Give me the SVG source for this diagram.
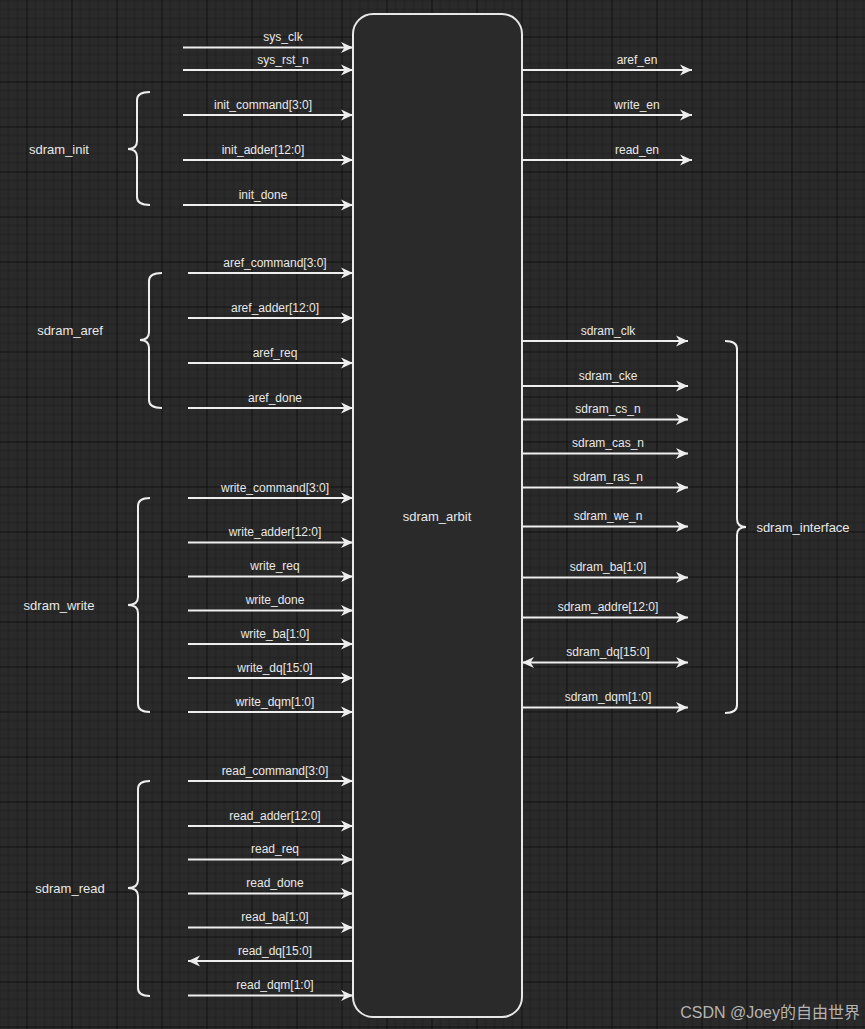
<svg xmlns="http://www.w3.org/2000/svg" width="865" height="1029" viewBox="0 0 865 1029">
<defs>
<pattern id="grid" patternUnits="userSpaceOnUse" x="26.5" y="36.5" width="45" height="45">
<rect width="45" height="45" fill="#2a2a2a"/>
<path d="M9,0V45M18,0V45M27,0V45M36,0V45M0,9H45M0,18H45M0,27H45M0,36H45" stroke="#222" stroke-width="1"/>
<path d="M0,0V45M0,0H45" stroke="#111" stroke-width="2"/>
</pattern>
<marker id="arr" markerUnits="userSpaceOnUse" markerWidth="13" markerHeight="12" refX="12" refY="6" orient="auto-start-reverse" viewBox="0 0 13 12">
<path d="M0,0.5L12,6L0,11.5L3.5,6Z" fill="#eeeeee"/>
</marker>
<style>
.w{stroke:#eeeeee;stroke-width:2;fill:none}
.a{stroke:#eeeeee;stroke-width:2;fill:none;marker-end:url(#arr)}
.b{stroke:#eeeeee;stroke-width:2;fill:none;marker-start:url(#arr);marker-end:url(#arr)}
.t{font-family:"Liberation Sans",Arial,sans-serif;font-size:12px;fill:#e8e8e8;text-anchor:middle}
.g{font-family:"Liberation Sans",Arial,sans-serif;font-size:13px;fill:#e8e8e8;text-anchor:middle;dominant-baseline:central}
</style>
</defs>
<rect width="865" height="1029" fill="url(#grid)"/>

<g id="sdram_arbit">
<rect x="353" y="14" width="169" height="1003" rx="20" ry="20" fill="#2a2a2a" stroke="#e8e8e8" stroke-width="2"/>
<text class="g" x="437" y="516">sdram_arbit</text>
</g>

<g id="group-labels">
<g id="sdram_init"><path class="w" d="M150,92Q137,92 137,100V141Q137,149 128,149Q137,149 137,157V197Q137,205 150,205"/><text class="g" x="59" y="149">sdram_init</text></g>
<g id="sdram_aref"><path class="w" d="M162,273Q149,273 149,281V332Q149,340 140,340Q149,340 149,348V400Q149,408 162,408"/><text class="g" x="70" y="330">sdram_aref</text></g>
<g id="sdram_write"><path class="w" d="M150,498Q138,498 138,506V597Q138,605 128,605Q138,605 138,613V704Q138,712 150,712"/><text class="g" x="59" y="605">sdram_write</text></g>
<g id="sdram_read"><path class="w" d="M150,781Q138,781 138,789V880Q138,888 128,888Q138,888 138,896V988Q138,996 150,996"/><text class="g" x="70" y="888">sdram_read</text></g>
<g id="sdram_interface"><path class="w" d="M725,341Q737,341 737,349V519Q737,527 746,527Q737,527 737,535V705Q737,713 725,713"/><text class="g" x="803" y="527">sdram_interface</text></g>
</g>

<g id="connectors">
<path class="a" d="M183,47.5H353"/><text class="t" x="283" y="41">sys_clk</text>
<path class="a" d="M183,70H353"/><text class="t" x="283" y="64">sys_rst_n</text>
<path class="a" d="M183,115H353"/><text class="t" x="263" y="109">init_command[3:0]</text>
<path class="a" d="M183,160H353"/><text class="t" x="263" y="154">init_adder[12:0]</text>
<path class="a" d="M183,205H353"/><text class="t" x="263" y="199">init_done</text>

<path class="a" d="M188,273H353"/><text class="t" x="275" y="267">aref_command[3:0]</text>
<path class="a" d="M188,318H353"/><text class="t" x="275" y="312">aref_adder[12:0]</text>
<path class="a" d="M188,363H353"/><text class="t" x="275" y="357">aref_req</text>
<path class="a" d="M188,408H353"/><text class="t" x="275" y="402">aref_done</text>

<path class="a" d="M188,498H353"/><text class="t" x="275" y="492">write_command[3:0]</text>
<path class="a" d="M188,542.5H353"/><text class="t" x="275" y="536">write_adder[12:0]</text>
<path class="a" d="M188,576.5H353"/><text class="t" x="275" y="570">write_req</text>
<path class="a" d="M188,610.5H353"/><text class="t" x="275" y="604">write_done</text>
<path class="a" d="M188,644H353"/><text class="t" x="275" y="638">write_ba[1:0]</text>
<path class="a" d="M188,678H353"/><text class="t" x="275" y="672">write_dq[15:0]</text>
<path class="a" d="M188,712H353"/><text class="t" x="275" y="706">write_dqm[1:0]</text>

<path class="a" d="M188,781H353"/><text class="t" x="275" y="775">read_command[3:0]</text>
<path class="a" d="M188,826H353"/><text class="t" x="275" y="820">read_adder[12:0]</text>
<path class="a" d="M188,859.5H353"/><text class="t" x="275" y="853">read_req</text>
<path class="a" d="M188,893.5H353"/><text class="t" x="275" y="887">read_done</text>
<path class="a" d="M188,927.5H353"/><text class="t" x="275" y="921">read_ba[1:0]</text>
<path class="a" d="M353,961H188"/><text class="t" x="275" y="955">read_dq[15:0]</text>
<path class="a" d="M188,995.5H353"/><text class="t" x="275" y="989">read_dqm[1:0]</text>

<path class="a" d="M522,70H692"/><text class="t" x="637" y="64">aref_en</text>
<path class="a" d="M522,115H692"/><text class="t" x="637" y="109">write_en</text>
<path class="a" d="M522,160H692"/><text class="t" x="637" y="154">read_en</text>

<path class="a" d="M522,341H688"/><text class="t" x="608" y="335">sdram_clk</text>
<path class="a" d="M522,386H688"/><text class="t" x="608" y="380">sdram_cke</text>
<path class="a" d="M522,419.5H688"/><text class="t" x="608" y="413">sdram_cs_n</text>
<path class="a" d="M522,453.5H688"/><text class="t" x="608" y="447">sdram_cas_n</text>
<path class="a" d="M522,487.5H688"/><text class="t" x="608" y="481">sdram_ras_n</text>
<path class="a" d="M522,526.5H688"/><text class="t" x="608" y="520">sdram_we_n</text>
<path class="a" d="M522,577.5H688"/><text class="t" x="608" y="571">sdram_ba[1:0]</text>
<path class="a" d="M522,617.5H688"/><text class="t" x="608" y="611">sdram_addre[12:0]</text>
<path class="b" d="M522,662.5H688"/><text class="t" x="608" y="656">sdram_dq[15:0]</text>
<path class="a" d="M522,707.5H688"/><text class="t" x="608" y="701">sdram_dqm[1:0]</text>
</g>

<text x="860" y="1018" text-anchor="end" font-family="'Liberation Sans','Noto Sans CJK SC',sans-serif" font-size="16" fill="#b4b4b4">CSDN @Joey的自由世界</text>
</svg>
